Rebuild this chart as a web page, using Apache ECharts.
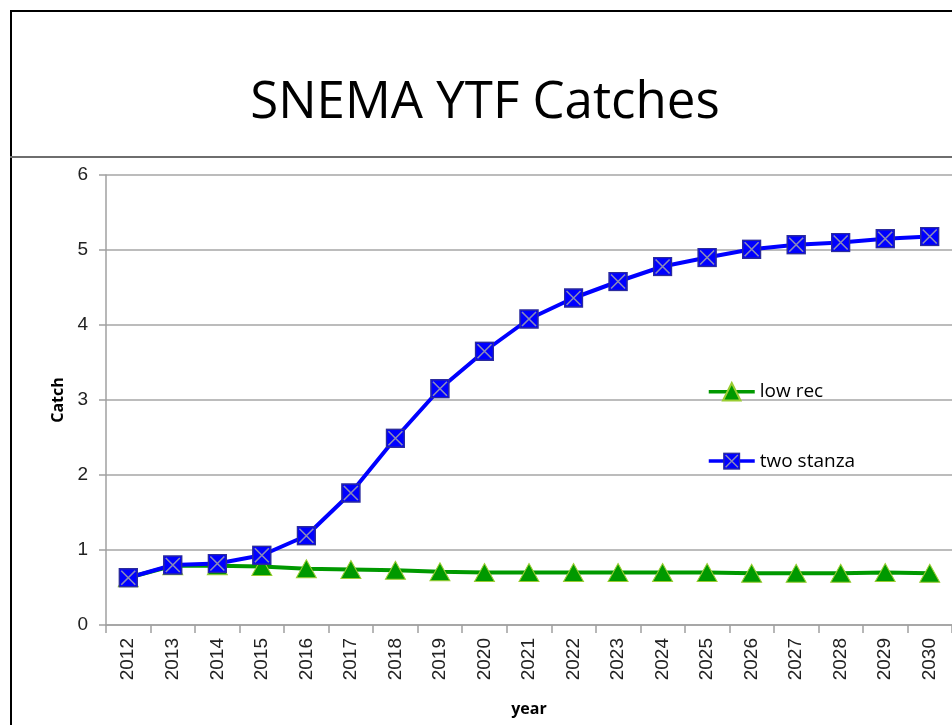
<!DOCTYPE html>
<html>
<head>
<meta charset="utf-8">
<title>SNEMA YTF Catches</title>
<script src="https://cdn.jsdelivr.net/npm/echarts@6/dist/echarts.min.js"></script>
<style>
  html, body { margin: 0; padding: 0; background: #fff; }
  #chart { width: 952px; height: 725px; }
</style>
</head>
<body>
<div id="chart"></div>
<script>
const years = ['2012', '2013', '2014', '2015', '2016', '2017', '2018', '2019', '2020', '2021',
  '2022', '2023', '2024', '2025', '2026', '2027', '2028', '2029', '2030']
const lowRec = [0.63, 0.79, 0.79, 0.78, 0.75, 0.74, 0.73, 0.71, 0.70, 0.70,
  0.70, 0.70, 0.70, 0.70, 0.69, 0.69, 0.69, 0.70, 0.69]
const twoStanza = [0.63, 0.80, 0.82, 0.93, 1.19, 1.76, 2.49, 3.15, 3.65, 4.08,
  4.36, 4.58, 4.78, 4.90, 5.01, 5.07, 5.10, 5.15, 5.18]
const yTicks = [0, 1, 2, 3, 4, 5, 6]

// blue square with the grey cross, like the Excel marker
const squareX = 'image://data:image/svg+xml;utf8,' + encodeURIComponent(
  '<svg xmlns="http://www.w3.org/2000/svg" width="20" height="20" viewBox="0 0 20 20">' +
  '<rect x="1" y="1" width="18" height="18" fill="#0000ff" stroke="#2b2b9e" stroke-width="1.5"/>' +
  '<path d="M3 3 L17 17 M17 3 L3 17" stroke="#8a8ab8" stroke-width="1.6"/></svg>')

const chart = echarts.init(document.getElementById('chart'))

const option = {
  animation: false,
  title: {
    text: 'SNEMA YTF Catches',
    left: 480,
    top: 73,
    textAlign: 'center',
    textStyle: { fontFamily: 'Open Sans', fontSize: 51, fontWeight: 'normal', color: '#000' }
  },
  graphic: [
    { type: 'line', shape: { x1: 10, y1: 11, x2: 952, y2: 11 }, style: { stroke: '#000', lineWidth: 2 } },
    { type: 'line', shape: { x1: 11, y1: 10, x2: 11, y2: 725 }, style: { stroke: '#000', lineWidth: 2 } },
    { type: 'line', shape: { x1: 10, y1: 157, x2: 952, y2: 157 }, style: { stroke: '#6e6e6e', lineWidth: 2 } }
  ],
  legend: {
    orient: 'vertical',
    left: 702,
    top: 377,
    itemGap: 50,
    itemWidth: 46,
    itemHeight: 22,
    lineStyle: { width: 3.5 },
    textStyle: { fontFamily: 'Open Sans', fontSize: 19, color: '#000' },
    data: ['low rec', 'two stanza']
  },
  grid: { left: 106, top: 175, width: 855, height: 450 },
  xAxis: {
    type: 'category',
    data: years,
    name: 'year',
    nameLocation: 'middle',
    nameGap: 76,
    nameTextStyle: { fontFamily: 'Open Sans', fontSize: 16, fontWeight: 'bold', color: '#000' },
    axisLine: { lineStyle: { color: '#a0a0a0', width: 1.5 } },
    axisTick: { show: true, interval: 0, length: 8, lineStyle: { color: '#a0a0a0', width: 1.5 } },
    axisLabel: {
      interval: 0,
      rotate: 90,
      margin: 13,
      fontFamily: 'Liberation Sans',
      fontSize: 19,
      color: '#222'
    }
  },
  yAxis: {
    type: 'value',
    min: 0,
    max: 6,
    interval: 1,
    name: 'Catch',
    nameLocation: 'middle',
    nameGap: 40,
    nameTextStyle: { fontFamily: 'Open Sans', fontSize: 16, fontWeight: 'bold', color: '#000' },
    axisLine: { show: true, lineStyle: { color: '#a0a0a0', width: 1.5 } },
    axisTick: { show: true, length: 7, lineStyle: { color: '#a0a0a0', width: 1.5 } },
    splitLine: { lineStyle: { color: '#a6a6a6', width: 1.5 } },
    axisLabel: {
      margin: 18,
      fontFamily: 'Liberation Sans',
      fontSize: 19,
      color: '#222',
      formatter: v => (yTicks.includes(v) ? String(v) : '')
    }
  },
  series: [
    {
      name: 'low rec',
      type: 'line',
      data: lowRec,
      symbol: 'triangle',
      symbolSize: [20, 18],
      lineStyle: { color: '#009900', width: 4 },
      itemStyle: { color: '#009900', borderColor: '#9acd32', borderWidth: 1 },
      z: 2
    },
    {
      name: 'two stanza',
      type: 'line',
      data: twoStanza,
      symbol: squareX,
      symbolSize: 20,
      lineStyle: { color: '#0000ff', width: 4 },
      itemStyle: { color: '#0000ff' },
      z: 3
    }
  ]
}

chart.setOption(option)
</script>
</body>
</html>
